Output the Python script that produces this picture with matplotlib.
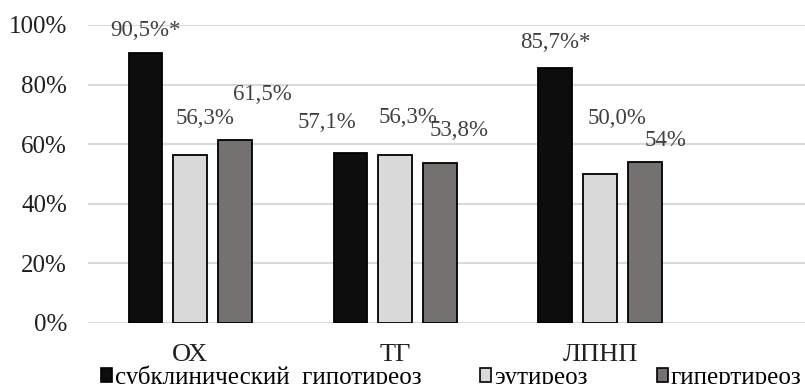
import matplotlib.pyplot as plt
from matplotlib.patches import Patch
import numpy as np

plt.rcParams['font.family'] = ['Liberation Serif', 'DejaVu Serif']

categories = ['ОХ', 'ТГ', 'ЛПНП']
series_names = ['субклинический  гипотиреоз', 'эутиреоз', 'гипертиреоз']
subclinical = [90.5, 57.1, 85.7]
euthyroid = [56.3, 56.3, 50.0]
hyperthyroid = [61.5, 53.8, 54.0]
labels_sub = ['90,5%*', '57,1%', '85,7%*']
labels_eu = ['56,3%', '56,3%', '50,0%']
labels_hyper = ['61,5%', '53,8%', '54%']

colors = ['#0d0d0d', '#d9d9d9', '#767171']
# data labels were dragged by hand in the original; offsets in pixels from bar top
label_offsets = [
    [(0, 23), (-24, 30), (0, 25)],
    [(15, 37), (13, 38), (17, 55)],
    [(27, 45), (19, 32), (21, 22)],
]

fig = plt.figure(figsize=(8.05, 3.84), dpi=100)
ax = fig.add_axes([0.109, 0.159, 0.891, 0.776])

x = np.arange(len(categories))
width = 0.165
step = 0.218
series = [subclinical, euthyroid, hyperthyroid]
all_labels = [labels_sub, labels_eu, labels_hyper]
for i, (vals, lbls) in enumerate(zip(series, all_labels)):
    pos = x + (i - 1) * step
    ax.bar(pos, np.array(vals) / 100, width, color=colors[i],
           edgecolor='black', linewidth=1.3, zorder=3)
    for j, (p, v, t) in enumerate(zip(pos, vals, lbls)):
        ax.annotate(t, (p, v / 100), xytext=label_offsets[i][j],
                    textcoords='offset pixels', ha='center', va='center',
                    fontsize=16.5, color='#404040')

ax.set_xlim(-0.5, 3.0)
ax.set_ylim(0, 1.0)
ax.set_yticks(np.arange(0, 1.01, 0.2))
ax.set_yticklabels([f'{int(v)}%' for v in np.arange(0, 101, 20)])
ax.set_xticks(x)
ax.set_xticklabels(categories)
ax.tick_params(axis='both', length=0, colors='#202020')
ax.tick_params(axis='x', pad=15, labelsize=19)
ax.tick_params(axis='y', pad=15, labelsize=18)
ax.grid(axis='y', color='#d9d9d9', linewidth=1.5, zorder=0)
ax.set_axisbelow(True)
for s in ax.spines.values():
    s.set_visible(False)

legend_x = [0.1255, 0.596, 0.816]
for name, c, lx in zip(series_names, colors, legend_x):
    h = Patch(facecolor=c, edgecolor='black', linewidth=1.2)
    fig.legend(handles=[h], labels=[name], loc='lower left',
               bbox_to_anchor=(lx, -0.012), frameon=False, fontsize=18,
               handlelength=0.44, handleheight=0.48, handletextpad=0.12,
               borderpad=0, borderaxespad=0)

fig.savefig('out.png', dpi=100)
